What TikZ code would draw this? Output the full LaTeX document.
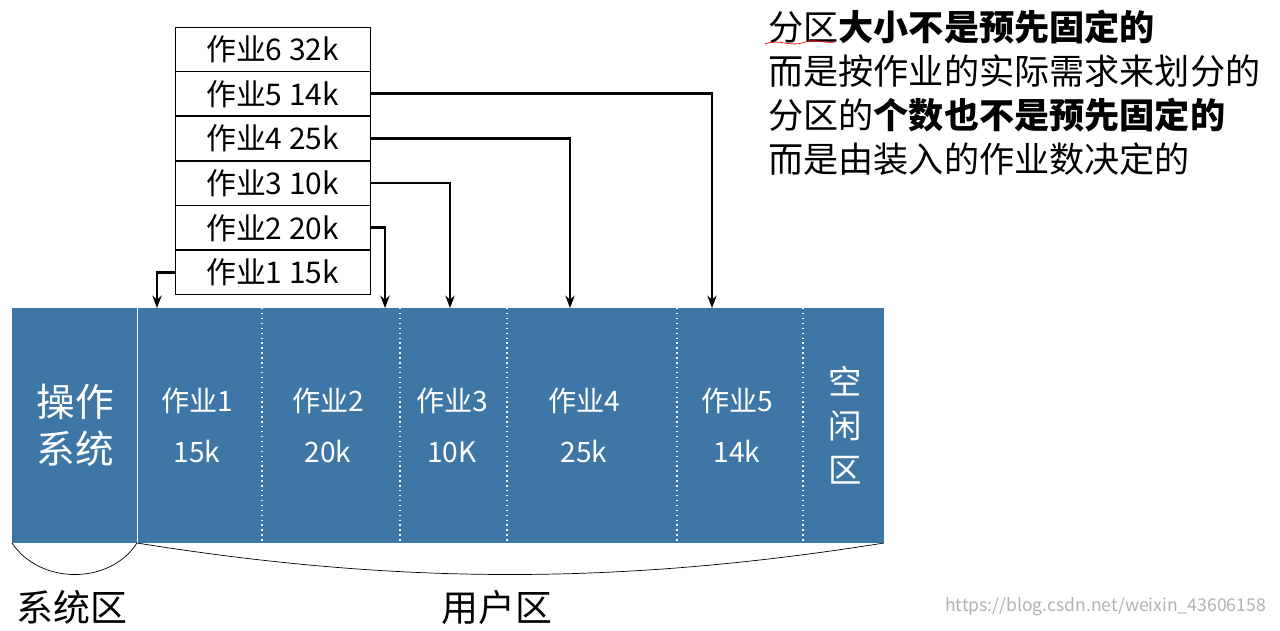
\documentclass[tikz,border=0pt]{standalone}
\usepackage{fontspec}
\setmainfont{Noto Sans CJK SC}
\usetikzlibrary{arrows.meta,positioning}
\definecolor{barblue}{HTML}{3E77A6}
\tikzset{
  jobbox/.style={draw,thin,minimum width=3.9cm,minimum height=0.88cm,inner sep=0pt,font=\fontsize{17}{20}\selectfont},
  jobarrow/.style={line width=1.6pt,-{Stealth[length=7pt]}},
  cell/.style={text=white,font=\fontsize{16}{19}\selectfont,align=center},
}
\begin{document}
\begin{tikzpicture}[x=0.02cm,y=-0.02cm]
  \useasboundingbox (0,0) rectangle (1280,630);

  % Tabel antrian pekerjaan
  \node[jobbox] (j6) at (272.5,49) {作业6 32k};
  \foreach \n/\s/\p in {5/14k/6,4/25k/5,3/10k/4,2/20k/3,1/15k/2}
    \node[jobbox,below=0pt of j\p] (j\n) {作业\n{} \s};

  % Memori
  \fill[barblue] (12,308) rectangle (884,543);
  \draw[white,thin] (137,308) -- (137,543);
  \foreach \x in {262,400,507,677,803}
    \draw[white,thick,dotted] (\x,308) -- (\x,543);
  \node[cell,font=\fontsize{22}{27}\selectfont] (os) at (75,425) {操作\\系统};
  \foreach \x/\n/\s in {197/1/15k,328/2/20k,452/3/10K,584/4/25k,737/5/14k}
    \node[cell,align=center] (m\n) at (\x,425) {作业\n\\[10pt]\s};
  \node[cell,font=\fontsize{19}{25}\selectfont] (free) at (845,425) {空\\闲\\区};

  % Titik tujuan panah
  \foreach \n/\x in {1/157,2/385,3/450,4/570,5/712}
    \coordinate (t\n) at (\x,308);

  % Panah
  \draw[jobarrow] (j1.west) -| (t1);
  \foreach \n in {2,...,5}
    \draw[jobarrow] (j\n.east) -| (t\n);

  % Kurung bawah
  \coordinate (s0) at (12,543);
  \coordinate (s1) at (137,543);
  \coordinate (s2) at (884,543);
  \draw (s0) .. controls (40,585) and (110,585) .. (s1);
  \draw (s1) .. controls (400,585) and (620,585) .. (s2);
  \node[font=\fontsize{21}{25}\selectfont] (sys) at (72,607) {系统区};
  \node[font=\fontsize{21}{25}\selectfont] (usr) at (497,607) {用户区};

  % Keterangan
  \node[anchor=north west,align=left,inner sep=0pt,font=\fontsize{20}{25}\selectfont] (note) at (768,10)
    {分区\textbf{大小不是预先固定的}\\而是按作业的实际需求来划分的\\分区的\textbf{个数也不是预先固定的}\\而是由装入的作业数决定的};
  \draw[red,thin] (765,44) .. controls (780,38) and (790,48) .. (805,42) .. controls (815,38) and (825,44) .. (835,42);

  \node[anchor=south east,gray!60,font=\fontsize{10}{12}\selectfont] (url) at (1272,622) {https://blog.csdn.net/weixin\_43606158};
\end{tikzpicture}
\end{document}
